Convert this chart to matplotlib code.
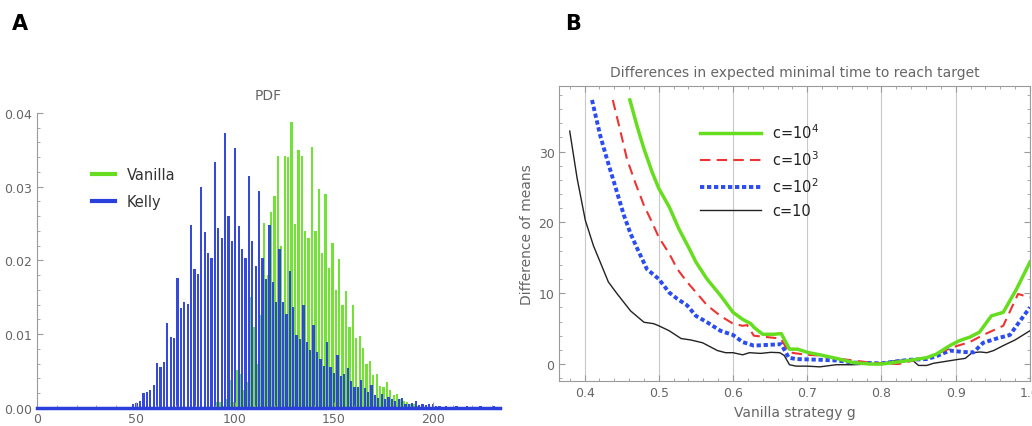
import numpy as np
import matplotlib
matplotlib.use("Agg")
import matplotlib.pyplot as plt
from matplotlib.lines import Line2D
from matplotlib.ticker import MultipleLocator, FormatStrFormatter

# ---- panel A data (histogram bins) ----
bin_start_kelly = 48.6
bin_start_vanilla = 49.5
bin_step = 1.72

kelly = [0.0005, 0.0007, 0.0009, 0.0020, 0.0021, 0.0025, 0.0031, 0.0061, 0.0055, 0.0063,
         0.0115, 0.0096, 0.0095, 0.0176, 0.0136, 0.0144, 0.0141, 0.0248, 0.0189, 0.0182,
         0.0300, 0.0239, 0.0210, 0.0203, 0.0334, 0.0244, 0.0230, 0.0373, 0.0260, 0.0227,
         0.0353, 0.0247, 0.0215, 0.0203, 0.0314, 0.0226, 0.0193, 0.0294, 0.0203, 0.0175,
         0.0248, 0.0171, 0.0144, 0.0216, 0.0143, 0.0128, 0.0186, 0.0137, 0.0099, 0.0094,
         0.0139, 0.0089, 0.0078, 0.0113, 0.0076, 0.0067, 0.0057, 0.0089, 0.0055, 0.0048,
         0.0072, 0.0044, 0.0046, 0.0054, 0.0036, 0.0028, 0.0029, 0.0038, 0.0027, 0.0022,
         0.0031, 0.0017, 0.0014, 0.0019, 0.0012, 0.0015, 0.0012, 0.0010, 0.0012, 0.0013,
         0.0006, 0.0006, 0.0007, 0.0010, 0.0004, 0.0005, 0.0004, 0.0005, 0.0005, 0.0003,
         0.0003, 0.0002, 0.0003, 0.0002, 0.0002, 0.0003, 0.0002, 0.0002, 0.0003, 0.0002,
         0.0002, 0.0002, 0.0003, 0.0002, 0.0002, 0.0002, 0.0003, 0.0002]

vanilla = [0.0, 0.0, 0.0, 0.0, 0.0, 0.0, 0.0, 0.0, 0.0, 0.0,
           0.0, 0.0, 0.0, 0.0, 0.0, 0.0, 0.0, 0.0, 0.0, 0.0,
           0.0, 0.0, 0.0, 0.0, 0.0008, 0.0008, 0.0003, 0.0012, 0.0038, 0.0008,
           0.0052, 0.0046, 0.0025, 0.0035, 0.0150, 0.0110, 0.0060, 0.0126, 0.0251, 0.0180,
           0.0266, 0.0287, 0.0342, 0.0220, 0.0342, 0.0340, 0.0388, 0.0250, 0.0350, 0.0342,
           0.0240, 0.0230, 0.0354, 0.0240, 0.0297, 0.0210, 0.0290, 0.0190, 0.0223, 0.0160,
           0.0202, 0.0140, 0.0158, 0.0110, 0.0139, 0.0095, 0.0098, 0.0081, 0.0060, 0.0064,
           0.0045, 0.0046, 0.0030, 0.0028, 0.0035, 0.0024, 0.0018, 0.0019, 0.0012, 0.0010,
           0.0008, 0.0006, 0.0005, 0.0003, 0.0002, 0.0002, 0.0001]

# ---- panel B data ----
g_c4 = [0.461, 0.471, 0.480, 0.491, 0.500, 0.514, 0.527, 0.541, 0.550, 0.565, 0.583, 0.600,
        0.613, 0.624, 0.628, 0.640, 0.655, 0.665, 0.676, 0.687, 0.700, 0.717, 0.739, 0.762,
        0.784, 0.800, 0.823, 0.843, 0.861, 0.874, 0.892, 0.905, 0.919, 0.932, 0.948, 0.964,
        0.982, 1.000]
d_c4 = [37.3, 33.5, 30.4, 27.1, 24.8, 22.2, 19.1, 16.3, 14.4, 12.0, 9.7, 7.3,
        6.3, 5.7, 5.2, 4.2, 4.2, 4.3, 2.1, 2.1, 1.65, 1.3, 0.8, 0.2,
        0.0, 0.0, 0.3, 0.6, 0.9, 1.4, 2.6, 3.3, 3.8, 4.5, 6.8, 7.3,
        10.6, 14.4]

g_c3 = [0.438, 0.448, 0.457, 0.468, 0.480, 0.491, 0.500, 0.514, 0.525, 0.538, 0.552, 0.565,
        0.583, 0.600, 0.613, 0.619, 0.628, 0.646, 0.664, 0.676, 0.685, 0.700, 0.717, 0.739,
        0.762, 0.784, 0.800, 0.823, 0.843, 0.861, 0.879, 0.900, 0.919, 0.937, 0.964, 0.984,
        1.000]
d_c3 = [37.3, 33.0, 29.0, 25.7, 22.4, 20.0, 17.9, 15.6, 13.4, 11.6, 9.9, 8.3,
        6.8, 5.7, 5.4, 5.5, 4.0, 3.8, 3.6, 1.65, 1.5, 1.3, 1.2, 0.8,
        0.5, 0.2, 0.1, 0.0, 0.5, 0.9, 1.65, 2.5, 3.1, 4.1, 5.4, 9.9,
        9.4]

g_c2 = [0.410, 0.421, 0.430, 0.441, 0.453, 0.462, 0.471, 0.484, 0.500, 0.514, 0.525, 0.538,
        0.550, 0.565, 0.583, 0.600, 0.613, 0.628, 0.646, 0.665, 0.675, 0.685, 0.717, 0.739,
        0.762, 0.800, 0.838, 0.861, 0.874, 0.892, 0.910, 0.924, 0.937, 0.955, 0.973, 0.984,
        1.000]
d_c2 = [37.3, 32.3, 29.0, 25.2, 21.0, 18.4, 16.3, 13.4, 12.0, 10.1, 9.2, 8.3,
        6.8, 5.9, 4.7, 4.1, 3.1, 2.6, 2.7, 2.8, 0.9, 0.7, 0.6, 0.5,
        0.2, 0.1, 0.6, 0.7, 1.1, 1.9, 1.7, 1.65, 3.0, 3.6, 4.1, 5.7,
        8.0]

g_c1 = [0.380, 0.390, 0.401, 0.412, 0.423, 0.432, 0.444, 0.462, 0.480, 0.493, 0.500, 0.514,
        0.530, 0.543, 0.559, 0.579, 0.590, 0.600, 0.613, 0.622, 0.637, 0.651, 0.663, 0.669,
        0.676, 0.685, 0.700, 0.717, 0.739, 0.762, 0.784, 0.800, 0.820, 0.841, 0.850, 0.861,
        0.870, 0.888, 0.900, 0.913, 0.922, 0.933, 0.942, 0.951, 0.964, 0.980, 1.000]
d_c1 = [32.9, 26.2, 20.3, 16.7, 13.9, 11.6, 9.9, 7.5, 5.9, 5.7, 5.4, 4.7,
        3.6, 3.4, 3.0, 1.9, 1.6, 1.6, 1.3, 1.6, 1.5, 1.65, 1.6, 1.2,
        -0.1, -0.3, -0.3, -0.4, -0.1, -0.1, 0.0, 0.1, 0.5, 0.6, -0.2, -0.2,
        0.1, 0.4, 0.6, 0.8, 1.6, 1.7, 1.6, 1.9, 2.6, 3.4, 4.7]

GREEN = "#72e336"
BLUE = "#2b3fdc"
LGREEN = "#66dd1f"
RED = "#ee3333"
LBLUE = "#2a4cf0"
GREY = "#666666"
FRAME = "#9a9a9a"

fig = plt.figure(figsize=(10.32, 4.27), dpi=100)

# ---------------- panel A ----------------
ax = fig.add_axes([0.0359, 0.0422, 0.4487, 0.691])
xv = bin_start_vanilla + bin_step * np.arange(len(vanilla))
xk = bin_start_kelly + bin_step * np.arange(len(kelly))
ax.bar(xv, vanilla, width=1.15, color=GREEN, linewidth=0)
ax.bar(xk, kelly, width=1.15, color=BLUE, linewidth=0, alpha=0.95)
ax.axhline(0, color=BLUE, lw=2.5, clip_on=False, zorder=3)
ax.set_xlim(0, 234)
ax.set_ylim(0, 0.04)
for s in ["top", "right", "bottom"]:
    ax.spines[s].set_visible(False)
ax.spines["left"].set_color(FRAME)
ax.yaxis.set_major_locator(MultipleLocator(0.01))
ax.yaxis.set_minor_locator(MultipleLocator(0.002))
ax.yaxis.set_major_formatter(FormatStrFormatter("%.2f"))
ax.xaxis.set_major_locator(MultipleLocator(50))
ax.xaxis.set_minor_locator(MultipleLocator(10))
ax.tick_params(which="both", direction="in", colors=FRAME, labelcolor=GREY, labelsize=9)
ax.tick_params(which="major", length=4)
ax.tick_params(which="minor", length=2)
ax.tick_params(axis="x", pad=3)
ax.set_title("PDF", color=GREY, fontsize=10, pad=10)
handles = [Line2D([], [], color=LGREEN, lw=3), Line2D([], [], color=BLUE, lw=3)]
ax.legend(handles, ["Vanilla", "Kelly"], loc="upper left", bbox_to_anchor=(0.09, 0.86),
          frameon=False, fontsize=10.5, handlelength=1.6, labelspacing=0.8, labelcolor="#333333")

# ---------------- panel B ----------------
bx = fig.add_axes([0.542, 0.1047, 0.456, 0.692])
bx.plot(g_c1, d_c1, color="#222222", lw=1.0, label="c=10")
bx.plot(g_c2, d_c2, color=LBLUE, lw=2.8, linestyle=(0, (1.1, 0.7)), label="c=10$^2$")
bx.plot(g_c3, d_c3, color=RED, lw=1.5, linestyle=(0, (5, 3)), label="c=10$^3$")
bx.plot(g_c4, d_c4, color=LGREEN, lw=2.5, label="c=10$^4$")
bx.set_xlim(0.366, 1.0)
bx.set_ylim(-2.44, 39.3)
bx.xaxis.set_major_locator(MultipleLocator(0.1))
bx.xaxis.set_minor_locator(MultipleLocator(0.02))
bx.yaxis.set_major_locator(MultipleLocator(10))
bx.yaxis.set_minor_locator(MultipleLocator(2))
bx.xaxis.set_major_formatter(FormatStrFormatter("%.1f"))
bx.grid(axis="x", which="major", color="#c8c8c8", lw=0.8)
for s in bx.spines.values():
    s.set_color(FRAME)
bx.tick_params(which="both", direction="in", top=True, right=True, colors=FRAME,
               labelcolor=GREY, labelsize=9)
bx.tick_params(which="major", length=4)
bx.tick_params(which="minor", length=2)
bx.set_title("Differences in expected minimal time to reach target", color=GREY, fontsize=10, pad=7)
bx.set_ylabel("Difference of means", color=GREY, fontsize=10, labelpad=3)
bx.set_xlabel("Vanilla strategy g", color=GREY, fontsize=10, labelpad=4)
h, l = bx.get_legend_handles_labels()
bx.legend(h[::-1], l[::-1], loc="upper left", bbox_to_anchor=(0.27, 0.92), frameon=False,
          fontsize=10.5, handlelength=4.2, labelspacing=0.55, labelcolor="#222222")

fig.text(0.012, 0.93, "A", fontsize=15, fontweight="bold")
fig.text(0.548, 0.93, "B", fontsize=15, fontweight="bold")

fig.savefig("out.png", dpi=100)
